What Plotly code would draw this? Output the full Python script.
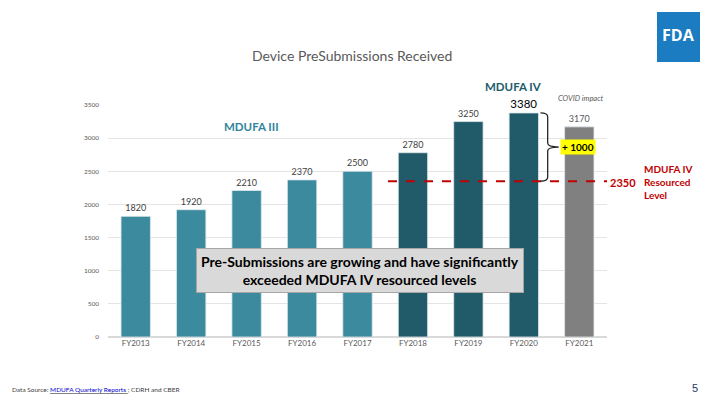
import plotly.graph_objects as go

years = ["FY2013", "FY2014", "FY2015", "FY2016", "FY2017", "FY2018", "FY2019", "FY2020", "FY2021"]
received = [1820, 1920, 2210, 2370, 2500, 2780, 3250, 3380, 3170]
bar_colors = ["#3b8a9e"] * 5 + ["#215b6a"] * 3 + ["#808080"]
label_sizes = [9] * 7 + [11.5] + [9]
label_colors = ["#404040"] * 7 + ["#000000"] + ["#595959"]
resourced_level = 2350
y_ticks = [0, 500, 1000, 1500, 2000, 2500, 3000, 3500]

FONT = "Lato, 'Open Sans', sans-serif"

# page body has an 8px margin; the figure is sized to fill the rest of the window
OFF = 8
W, H = 720 - OFF, 405 - OFF
L, R, T, B = 108 - OFF, 113, 105 - OFF, 68
pw, ph = W - L - R, H - T - B


def px(xs):
    return (xs - OFF - L) / pw


def py(ys):
    return (H - B - (ys - OFF)) / ph


fig = go.Figure()
fig.add_trace(go.Bar(
    x=years, y=received,
    marker=dict(color=bar_colors, line=dict(color="#dfe9ec", width=0.8)),
    width=0.53,
    text=[str(v) for v in received],
    textposition="outside",
    textfont=dict(size=label_sizes, color=label_colors, family=FONT),
    cliponaxis=False,
    hoverinfo="skip",
))

# dashed resourced level line
fig.add_shape(type="line", xref="x", yref="y",
              x0=4.55, x1=8.5, y0=resourced_level, y1=resourced_level,
              line=dict(color="#c00000", width=2, dash="dash"))

# brace from FY2020 top down to the resourced level
top = received[7]
bot = resourced_level
mid = (top + bot) / 2
bx0, bx1, btip = 7.30, 7.43, 7.63
path = (f"M {bx0},{top} Q {bx1},{top} {bx1},{top-60} "
        f"L {bx1},{mid+60} Q {bx1},{mid} {btip},{mid} "
        f"Q {bx1},{mid} {bx1},{mid-60} L {bx1},{bot+60} Q {bx1},{bot} {bx0},{bot}")
fig.add_shape(type="path", xref="x", yref="y", path=path,
              line=dict(color="#262626", width=1.3))

annotations = [
    dict(text="Device PreSubmissions Received", x=px(352), y=py(55), xref="paper", yref="paper",
         font=dict(size=14, color="#595959", family=FONT)),
    dict(text="<b>MDUFA III</b>", x=2.09, y=3183, xref="x", yref="y",
         font=dict(size=11.5, color="#31849b", family=FONT)),
    dict(text="<b>MDUFA IV</b>", x=px(513), y=py(86), xref="paper", yref="paper",
         font=dict(size=11.5, color="#215b6a", family=FONT)),
    dict(text="<i>COVID impact</i>", x=px(581), y=py(98), xref="paper", yref="paper",
         font=dict(size=7.5, color="#595959", family=FONT)),
    dict(text="<b>+ 1000</b>", x=7.97, y=mid, xref="x", yref="y",
         font=dict(size=10, color="#000000", family=FONT), bgcolor="#ffff00", borderpad=1),
    dict(text="<b>2350</b>", x=px(623), y=py(182), xref="paper", yref="paper",
         font=dict(size=11, color="#c00000", family=FONT)),
    dict(text="<b>MDUFA IV<br>Resourced<br>Level</b>", x=px(642), y=py(182), xref="paper", yref="paper",
         xanchor="left", align="left",
         font=dict(size=10, color="#c00000", family=FONT)),
    dict(text="<b>Pre-Submissions are growing and have significantly<br>exceeded MDUFA IV resourced levels</b>",
         x=4.04, y=1003, xref="x", yref="y",
         font=dict(size=14, color="#000000", family=FONT),
         bgcolor="#d9d9d9", bordercolor="#a6a6a6", borderwidth=1, borderpad=4),
    dict(text="Data Source: <u><span style='color:#0000cc'>MDUFA Quarterly Reports </span></u>; CDRH and CBER",
         x=px(10), y=py(389), xref="paper", yref="paper", xanchor="left",
         font=dict(size=6.5, color="#404040", family=FONT)),
    dict(text="5", x=px(695), y=py(388), xref="paper", yref="paper",
         font=dict(size=11, color="#1f3864", family="Arial, sans-serif")),
    dict(text="<b>FDA</b>", x=px(678), y=py(35), xref="paper", yref="paper",
         font=dict(size=16, color="#ffffff", family="'Open Sans', sans-serif")),
]
for a in annotations:
    a.setdefault("showarrow", False)
    a.setdefault("xanchor", "center")
    a.setdefault("yanchor", "middle")

# FDA logo square
fig.add_shape(type="rect", xref="paper", yref="paper",
              x0=px(657), x1=px(700), y0=py(62), y1=py(12),
              fillcolor="#1b7cc1", line=dict(width=0), layer="below")

fig.update_layout(
    width=W, height=H,
    margin=dict(l=L, r=R, t=T, b=B, autoexpand=False),
    paper_bgcolor="white", plot_bgcolor="white",
    showlegend=False,
    annotations=annotations,
    xaxis=dict(range=[-0.5, 8.5], showgrid=False, showline=False, ticks="",
               tickfont=dict(size=8, color="#595959", family=FONT)),
    yaxis=dict(range=[0, 3500], tickvals=y_ticks, showgrid=True, gridcolor="#e4e4e4", gridwidth=1,
               zeroline=True, zerolinecolor="#d9d9d9", showline=False, ticks="",
               tickfont=dict(size=6.5, color="#595959", family=FONT), ticklabelstandoff=8),
)

fig.write_html("out.html")
